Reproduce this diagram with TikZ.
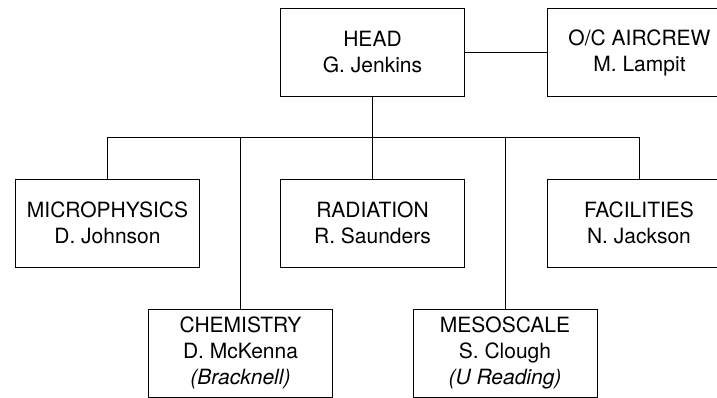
\documentclass[tikz,border=0pt]{standalone}
\usepackage{fontspec}
\setmainfont{TeX Gyre Heros}
\usetikzlibrary{positioning}

\begin{document}
\begin{tikzpicture}[x=1pt, y=-1pt, line width=1pt,
        office/.style={rectangle, draw, inner sep=0pt, minimum width=184pt, minimum height=88pt,
            align=center, font=\fontsize{21}{26}\selectfont} ]
            \clip (0,0) rectangle (717,397);
            % --- Nodes Placement ---
            \node[office] (Head) at (372.5,52.5) {HEAD\\G. Jenkins};
            \node[office] (Aircrew) [right=82pt of Head] {O/C AIRCREW\\M. Lampit};

            \node[office] (Micro) at (107.5,223) {MICROPHYSICS\\D. Johnson};
            \node[office] (Rad) at (372.5,223) {RADIATION\\R. Saunders};
            \node[office] (Fac) at (639,223) {FACILITIES\\N. Jackson};

            \node[office] (Chem) at (240.5,353) {CHEMISTRY\\D. McKenna\\\textit{(Bracknell)}};
            \node[office] (Meso) at (505,353) {MESOSCALE\\S. Clough\\\textit{(U Reading)}};

            % --- Connections ---
            \draw (Head) -- (Aircrew);
            \draw (Head.south) -- ++(0,40.5) coordinate (Bus);
            \draw (Micro.north) -- (Micro.north |- Bus) -- (Fac.north |- Bus) -- (Fac.north);
            \draw (Bus) -- (Rad.north);
            \draw (Chem.north |- Bus) -- (Chem.north);
            \draw (Meso.north |- Bus) -- (Meso.north);
        \end{tikzpicture}
\end{document}
